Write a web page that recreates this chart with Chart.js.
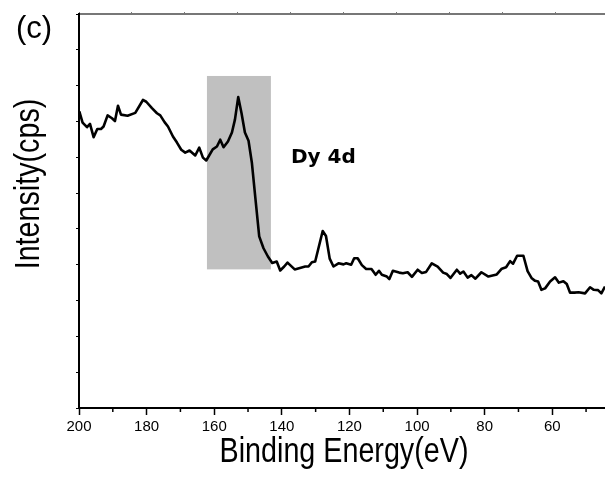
<!DOCTYPE html>
<html>
<head>
<meta charset="utf-8">
<script src="https://cdn.jsdelivr.net/npm/chart.js@4/dist/chart.umd.min.js"></script>
<style>
html,body{margin:0;padding:0;background:#fff;}
canvas{display:block;}
</style>
</head>
<body>
<canvas id="c" width="605" height="477"></canvas>
<script>
// ---- data ----
const energy = [199.9,198.94,197.63,196.75,195.68,194.59,193.5,192.73,191.54,190.24,189.36,188.47,187.58,185.63,183.35,181.08,180.1,178.42,176.94,175.96,174.69,173.68,172.21,171.02,169.75,168.57,167.3,165.61,164.43,163.34,162.36,160.44,159.2,158.22,157.24,155.94,154.76,153.87,152.9,151.92,150.92,149.85,148.85,147.87,146.69,145.42,144.12,142.84,141.51,140.48,139.3,138.32,136.19,133.09,132.11,131.11,130.13,127.91,126.94,125.84,124.72,123.24,121.76,120.96,119.49,118.6,117.56,116.32,115.05,113.48,112.24,111.27,110.41,108.93,108.19,107.16,105.29,104.2,102.78,101.51,99.82,98.58,97.31,95.63,93.91,92.28,91.19,90.12,88.23,87.26,86.28,85.04,83.92,82.73,80.96,78.89,76.41,74.93,73.66,72.47,71.59,70.4,68.54,67.3,66.06,65.08,64.19,63.22,62.12,60.64,59.17,58.04,56.71,55.71,54.73,53.4,52.22,50.3,48.82,47.72,46.45,45.48,44.4];
const intensity = [8.28,7.97,7.84,7.93,7.56,7.79,7.79,7.86,8.17,8.09,8.01,8.44,8.19,8.16,8.24,8.6,8.55,8.37,8.23,8.17,7.98,7.86,7.58,7.41,7.21,7.13,7.19,7.05,7.27,6.99,6.91,7.22,7.3,7.49,7.28,7.44,7.69,8.05,8.68,8.23,7.69,7.46,6.84,5.9,4.79,4.46,4.23,4.05,4.09,3.84,3.95,4.06,3.87,3.95,3.95,4.07,4.09,4.94,4.8,4.17,3.95,4.04,4.01,4.04,4.0,4.18,4.18,3.99,3.88,3.88,3.72,3.83,3.72,3.67,3.6,3.83,3.78,3.76,3.79,3.66,3.86,3.77,3.8,4.04,3.95,3.78,3.74,3.63,3.86,3.75,3.81,3.64,3.71,3.61,3.79,3.67,3.73,3.89,3.93,4.1,4.03,4.25,4.25,3.82,3.62,3.55,3.53,3.3,3.34,3.53,3.65,3.5,3.54,3.46,3.22,3.22,3.23,3.2,3.37,3.3,3.29,3.2,3.39];
const xTickValues = [200,180,160,140,120,100,80,60];
const xMinorTickValues = [190,170,150,130,110,90,70,50];
const bandEnergy = [162.15, 143.23];
const bandIntensity = [3.87, 9.27];
const bandLabel = 'Dy 4d';
const panelLabel = '(c)';
const xTitle = 'Binding Energy(eV)';
const yTitle = 'Intensity(cps)';

const sans = '"Liberation Sans", Arial, sans-serif';

const points = energy.map((e, i) => ({x: e, y: intensity[i]}));

const bandPlugin = {
  id: 'band',
  beforeDatasetsDraw(chart) {
    const {ctx, scales: {x, y}} = chart;
    const x0 = x.getPixelForValue(bandEnergy[0]);
    const x1 = x.getPixelForValue(bandEnergy[1]);
    const y0 = y.getPixelForValue(bandIntensity[1]);
    const y1 = y.getPixelForValue(bandIntensity[0]);
    ctx.save();
    ctx.fillStyle = '#c0c0c0';
    ctx.fillRect(Math.min(x0,x1), y0, Math.abs(x1-x0), y1-y0);
    ctx.restore();
  }
};

function narrowText(ctx, text, x, y, rot, size) {
  ctx.save();
  ctx.translate(x, y);
  if (rot) ctx.rotate(rot);
  ctx.scale(0.82, 1);
  ctx.font = size + 'px ' + sans;
  ctx.textAlign = 'center';
  ctx.textBaseline = 'alphabetic';
  ctx.fillText(text, 0, 0);
  ctx.restore();
}

const decoPlugin = {
  id: 'deco',
  afterDraw(chart) {
    const {ctx, scales: {x}, chartArea} = chart;
    ctx.save();
    // minor ticks
    ctx.strokeStyle = '#000';
    ctx.lineWidth = 1.5;
    xMinorTickValues.forEach(v => {
      const px = x.getPixelForValue(v);
      if (px < chartArea.left || px > chartArea.right) return;
      ctx.beginPath();
      ctx.moveTo(px, chartArea.bottom);
      ctx.lineTo(px, chartArea.bottom + 4);
      ctx.stroke();
    });
    ctx.fillStyle = '#000';
    // panel label
    ctx.font = '31px ' + sans;
    ctx.textAlign = 'left';
    ctx.textBaseline = 'alphabetic';
    ctx.fillText(panelLabel, 16, 38);
    // axis titles (Arial-Narrow-like)
    narrowText(ctx, xTitle, 344, 462, 0, 35);
    narrowText(ctx, yTitle, 39, 184, -Math.PI / 2, 35);
    // band label
    ctx.font = 'bold 20px "DejaVu Sans", Verdana, sans-serif';
    ctx.textAlign = 'left';
    ctx.fillText(bandLabel, 291, 163);
    ctx.restore();
  }
};

new Chart(document.getElementById('c'), {
  type: 'line',
  data: {
    datasets: [{
      data: points,
      borderColor: '#000',
      borderWidth: 2.6,
      borderJoinStyle: 'round',
      pointRadius: 0,
      tension: 0,
      fill: false
    }]
  },
  options: {
    responsive: false,
    animation: false,
    devicePixelRatio: 1,
    layout: {padding: {left: 0, right: 0, top: 0, bottom: 0}},
    plugins: {legend: {display: false}, tooltip: {enabled: false}},
    scales: {
      x: {
        type: 'linear',
        position: 'bottom',
        reverse: true,
        min: 44.4,
        max: 200,
        afterBuildTicks(scale) { scale.ticks = xTickValues.map(v => ({value: v})); },
        afterFit(scale) { scale.height = 69; },
        grid: {drawOnChartArea: false, drawTicks: true, tickLength: 7, tickColor: '#000', tickWidth: 1.5},
        border: {display: true, color: '#000', width: 2},
        ticks: {color: '#000', padding: 3, maxRotation: 0, autoSkip: false,
                font: {family: sans, size: 15}}
      },
      xTop: {
        type: 'linear',
        position: 'top',
        min: 0,
        max: 9.925,
        afterBuildTicks(scale) {
          const t = [];
          for (let i = 0; i <= 9; i++) t.push({value: i});
          scale.ticks = t;
        },
        afterFit(scale) { scale.height = 14; },
        grid: {drawOnChartArea: false, drawTicks: true, tickLength: 2, tickColor: '#777', tickWidth: 1},
        border: {display: true, color: '#777', width: 2},
        ticks: {display: false}
      },
      y: {
        type: 'linear',
        position: 'left',
        min: 0,
        max: 11,
        afterBuildTicks(scale) {
          const t = [];
          for (let i = 0; i <= 11; i++) t.push({value: i});
          scale.ticks = t;
        },
        afterFit(scale) { scale.width = 79; },
        grid: {drawOnChartArea: false, drawTicks: true, tickLength: 3, tickColor: '#000', tickWidth: 1},
        border: {display: true, color: '#000', width: 2},
        ticks: {display: false}
      }
    }
  },
  plugins: [bandPlugin, decoPlugin]
});
</script>
</body>
</html>
